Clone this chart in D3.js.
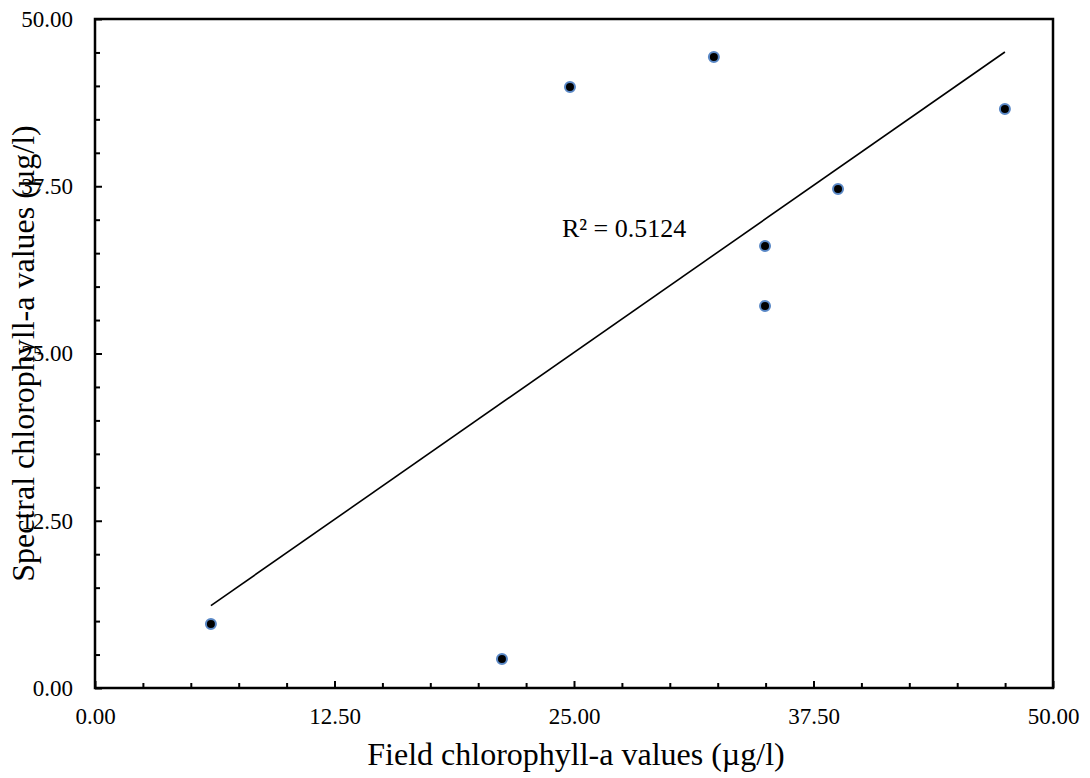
<!DOCTYPE html>
<html>
<head>
<meta charset="utf-8">
<script src="https://cdn.jsdelivr.net/npm/d3@7"></script>
<style>
  html, body { margin: 0; padding: 0; background: #fff; }
  svg { display: block; font-family: "Liberation Serif", "Times New Roman", serif; }
</style>
</head>
<body>
<svg id="chart" width="1090" height="778"></svg>
<script>
// ---- Data ----
const fieldValues    = [6.05, 21.24, 24.79, 32.30, 34.97, 34.97, 38.78, 47.49];
const spectralValues = [4.78, 2.17, 44.92, 47.16, 33.03, 28.55, 37.29, 43.27];
const xMajorTicks = [0, 12.5, 25, 37.5, 50];
const yMajorTicks = [0, 12.5, 25, 37.5, 50];
const minorStep = 2.5;
const xTitle = "Field chlorophyll-a values (\u00B5g/l)";
const yTitle = "Spectral chlorophyll-a values (\u00B5g/l)";
const r2Label = "R\u00B2 = 0.5124";

// ---- Layout ----
const plot = { left: 95, top: 19, right: 1053, bottom: 688 };

const svg = d3.select("#chart");
const x = d3.scaleLinear().domain([0, 50]).range([plot.left, plot.right]);
const y = d3.scaleLinear().domain([0, 50]).range([plot.bottom, plot.top]);

const minorX = d3.range(0, 50 + 1e-9, minorStep).filter(v => !xMajorTicks.some(m => Math.abs(m - v) < 1e-9));
const minorY = d3.range(0, 50 + 1e-9, minorStep).filter(v => !yMajorTicks.some(m => Math.abs(m - v) < 1e-9));

const serif = '"Liberation Serif", "Times New Roman", serif';

// minor ticks
const gxMinor = svg.append("g").attr("transform", `translate(0,${plot.bottom})`)
  .call(d3.axisBottom(x).tickValues(minorX).tickSizeInner(-5).tickSizeOuter(0).tickFormat(""));
const gyMinor = svg.append("g").attr("transform", `translate(${plot.left},0)`)
  .call(d3.axisLeft(y).tickValues(minorY).tickSizeInner(-5).tickSizeOuter(0).tickFormat(""));

// major ticks + labels
const fmt = d3.format(".2f");
const gx = svg.append("g").attr("transform", `translate(0,${plot.bottom})`)
  .call(d3.axisBottom(x).tickValues(xMajorTicks).tickSizeInner(-7).tickSizeOuter(0).tickPadding(20).tickFormat(fmt));
const gy = svg.append("g").attr("transform", `translate(${plot.left},0)`)
  .call(d3.axisLeft(y).tickValues(yMajorTicks).tickSizeInner(-7).tickSizeOuter(0).tickPadding(22).tickFormat(fmt));

[gxMinor, gyMinor, gx, gy].forEach(g => {
  g.attr("font-family", serif).attr("font-size", 23);
  g.select(".domain").remove();
  g.selectAll(".tick line").attr("stroke", "#000").attr("stroke-width", 2);
  g.selectAll(".tick text").attr("fill", "#000");
});

// frame
svg.append("rect")
  .attr("x", plot.left).attr("y", plot.top)
  .attr("width", plot.right - plot.left).attr("height", plot.bottom - plot.top)
  .attr("fill", "none").attr("stroke", "#000").attr("stroke-width", 2.5);

// trend line (least squares)
const n = fieldValues.length;
const mx = d3.mean(fieldValues), my = d3.mean(spectralValues);
let sxy = 0, sxx = 0;
for (let i = 0; i < n; i++) {
  sxy += (fieldValues[i] - mx) * (spectralValues[i] - my);
  sxx += (fieldValues[i] - mx) ** 2;
}
const slope = sxy / sxx, intercept = my - slope * mx;
const [x0, x1] = d3.extent(fieldValues);
svg.append("line")
  .attr("x1", x(x0)).attr("y1", y(slope * x0 + intercept))
  .attr("x2", x(x1)).attr("y2", y(slope * x1 + intercept))
  .attr("stroke", "#000").attr("stroke-width", 1.6);

// points
svg.append("g").selectAll("circle")
  .data(fieldValues.map((v, i) => [v, spectralValues[i]]))
  .join("circle")
  .attr("cx", d => x(d[0])).attr("cy", d => y(d[1]))
  .attr("r", 5)
  .attr("fill", "#000")
  .attr("stroke", "#5a88c6").attr("stroke-width", 2);

// R² label
svg.append("text")
  .attr("x", x(24.37)).attr("y", y(33.7))
  .attr("font-size", "26px").attr("fill", "#000")
  .text(r2Label);

// axis titles
svg.append("text")
  .attr("x", (plot.left + plot.right) / 2 + 2).attr("y", 765)
  .attr("text-anchor", "middle").attr("font-size", "32px").attr("fill", "#000")
  .text(xTitle);
svg.append("text")
  .attr("transform", `translate(34,${(plot.top + plot.bottom) / 2}) rotate(-90)`)
  .attr("text-anchor", "middle").attr("font-size", "32px").attr("fill", "#000")
  .text(yTitle);
</script>
</body>
</html>
